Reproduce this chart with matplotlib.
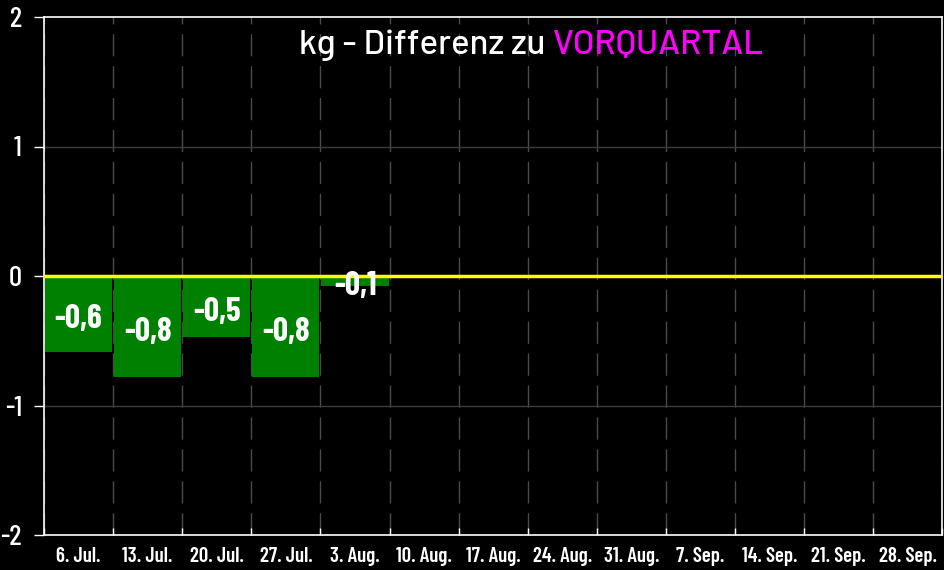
import numpy as np
import matplotlib
matplotlib.use('Agg')
import matplotlib.pyplot as plt

# Daten
kategorien = ['6. Jul.', '13. Jul.', '20. Jul.', '27. Jul.', '3. Aug.', '10. Aug.', '17. Aug.',
              '24. Aug.', '31. Aug.', '7. Sep.', '14. Sep.', '21. Sep.', '28. Sep.']
werte = [-0.59, -0.78, -0.47, -0.78, -0.08]
y_ticks = [-2, -1, 0, 1, 2]
y_labels = ['-2', '-1', '0', '1', '2']

schmal = ['Barlow Condensed', 'DejaVu Sans']
titel_font = ['Barlow', 'DejaVu Sans']

fig = plt.figure(figsize=(9.45, 5.7), dpi=100, facecolor='black')
ax = fig.add_axes([44/945, 1 - 535/570, (942.5 - 44)/945, (535 - 17)/570])
ax.set_facecolor('black')

n = len(kategorien)
x = np.arange(n)

# vertikale Gitterlinien zwischen den Kategorien
for b in np.arange(n + 1) - 0.5:
    ax.axvline(b, color='#4a4a4a', lw=1, dashes=(16, 7), zorder=1)
for yy in [-1, 1]:
    ax.axhline(yy, color='#3c3c3c', lw=1, zorder=1)

ax.bar(x[:len(werte)], werte, width=0.97, color='#008000', zorder=2)
ax.axhline(0, color='#ffff00', lw=2.5, zorder=3)

for xi, w in zip(x, werte):
    txt = ('%.1f' % w).replace('.', ',')
    ax.text(xi, w / 2 - 0.04, txt, ha='center', va='center', color='white',
            fontsize=24, fontweight='bold', family=schmal, zorder=4)

ax.set_xlim(-0.5, n - 0.5)
ax.set_ylim(-2, 2)

ax.set_xticks(x)
ax.set_xticklabels(kategorien)
ax.set_xticks(np.arange(n + 1) - 0.5, minor=True)
ax.tick_params(axis='x', which='major', length=0, pad=9, colors='white')
ax.tick_params(axis='x', which='minor', length=5, direction='in', color='white', width=1)
for lbl in ax.get_xticklabels():
    lbl.set_family(schmal)
    lbl.set_fontsize(15)
    lbl.set_fontweight('semibold')

ax.set_yticks(y_ticks)
ax.set_yticklabels(y_labels)
ax.tick_params(axis='y', length=7, width=1, pad=9, color='white', labelcolor='white')
for lbl in ax.get_yticklabels():
    lbl.set_family(schmal)
    lbl.set_fontsize(21)
    lbl.set_fontweight('medium')

for s in ax.spines.values():
    s.set_color('white')
    s.set_linewidth(1.2)

# Titel
fig.text(545/945, 1 - 45/570, 'kg - Differenz zu', ha='right', va='center',
         color='white', fontsize=25, family=titel_font, fontweight='medium')
fig.text(553/945, 1 - 45/570, 'VORQUARTAL', ha='left', va='center',
         color='#ff00ff', fontsize=25, family=titel_font, fontweight='medium')

fig.savefig('out.png', dpi=100, facecolor='black')
